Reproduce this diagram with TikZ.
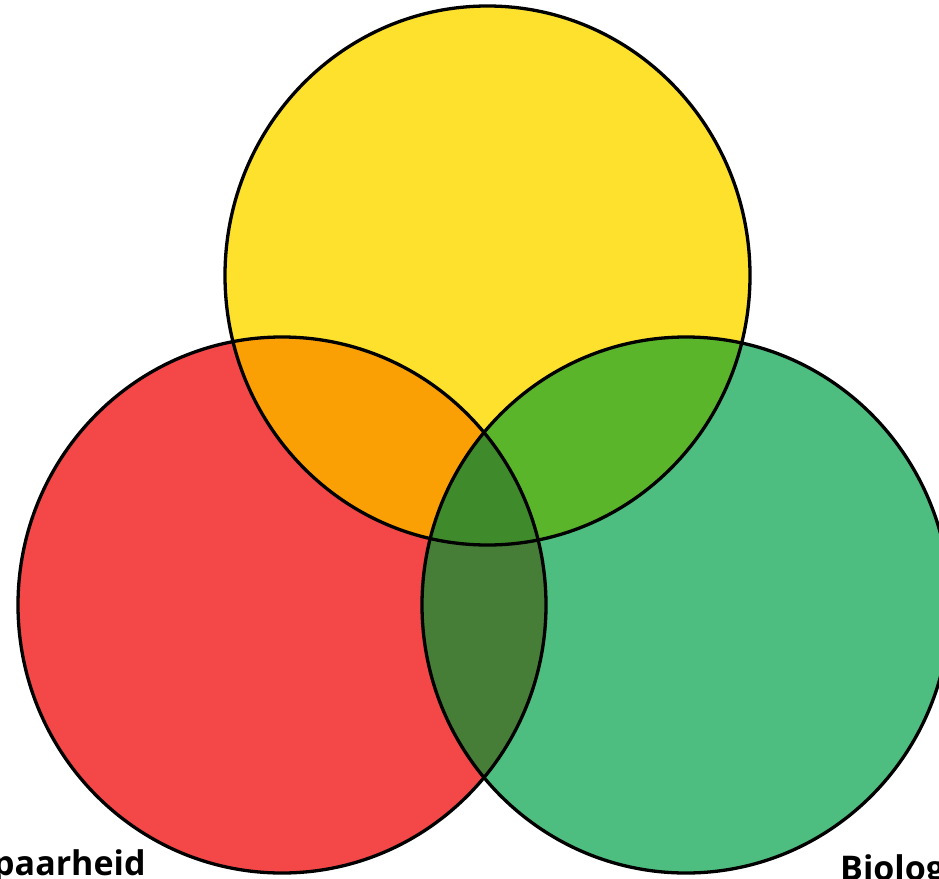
\documentclass[tikz,border=0pt]{standalone}
\usepackage{fontspec}
\setmainfont{Open Sans}
\definecolor{cred}{HTML}{F44848}
\definecolor{cyellow}{HTML}{FDE12D}
\definecolor{cgreen}{HTML}{4DBE7F}
\definecolor{cry}{HTML}{FBA004}
\definecolor{cyg}{HTML}{5BB52B}
\definecolor{crg}{HTML}{477E37}
\definecolor{cryg}{HTML}{3F8B2B}
\tikzset{
  ring/.style={draw=black, line width=3.3pt},
  lbl/.style={font=\fontsize{34}{34}\selectfont\bfseries, inner sep=0pt, text=black}
}
\begin{document}
\begin{tikzpicture}[x=1pt,y=-1pt]
\useasboundingbox (0,0) rectangle (939,878);
\clip (0,0) rectangle (939,878);
\fill[white] (0,0) rectangle (939,878);
\coordinate (Y) at (487.5,275.5);
\coordinate (R) at (282,605);
\coordinate (G) at (686,605);
\def\yshape{(Y) ellipse [x radius=262.5pt, y radius=269.5pt]}
\def\rshape{(R) ellipse [x radius=264pt, y radius=268pt]}
\def\gshape{(G) ellipse [x radius=264pt, y radius=268pt]}
% base fills
\fill[cyellow] \yshape;
\fill[cred] \rshape;
\fill[cgreen] \gshape;
% pairwise overlaps
\begin{scope}\clip \rshape; \fill[cry] \yshape; \end{scope}
\begin{scope}\clip \gshape; \fill[cyg] \yshape; \end{scope}
\begin{scope}\clip \rshape; \fill[crg] \gshape; \end{scope}
% triple overlap
\begin{scope}\clip \rshape; \clip \gshape; \fill[cryg] \yshape; \end{scope}
% outlines
\draw[ring] \yshape;
\draw[ring] \rshape;
\draw[ring] \gshape;
% labels (cut at the picture's edges, as in the reference)
\node[lbl, anchor=base west] (lA) at (-7,875) {paarheid};
\node[lbl, anchor=base west] (lB) at (840,880) {Biolog};
\end{tikzpicture}
\end{document}
